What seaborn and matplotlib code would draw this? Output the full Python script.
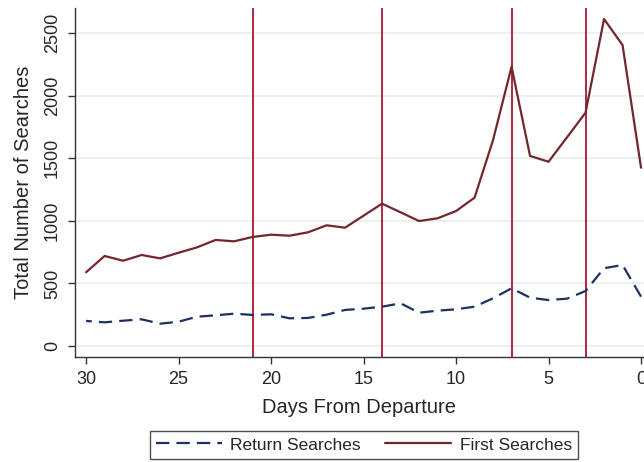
import matplotlib
matplotlib.use("Agg")
import matplotlib.pyplot as plt
import seaborn as sns
import pandas as pd

days = list(range(30, -1, -1))
first_searches = [589, 719, 681, 727, 700, 745, 788, 847, 836, 871,
                  889, 881, 908, 964, 945, 1041, 1137, 1068, 998, 1020,
                  1078, 1185, 1645, 2231, 1518, 1472, 1667, 1864, 2612, 2404,
                  1424]
return_searches = [200, 189, 202, 213, 178, 194, 234, 245, 258, 248,
                   253, 221, 224, 250, 288, 298, 314, 341, 266, 282,
                   293, 314, 381, 461, 386, 367, 378, 439, 621, 647,
                   394]
marker_days = [21, 14, 7, 3]
y_ticks = [0, 500, 1000, 1500, 2000, 2500]
x_ticks = [30, 25, 20, 15, 10, 5, 0]

sns.set_style("white")
plt.rcParams["font.family"] = ["Liberation Sans", "DejaVu Sans"]

df = pd.DataFrame({"days": days, "first": first_searches, "ret": return_searches})

fig = plt.figure(figsize=(6.44, 4.62), dpi=100)
ax = fig.add_axes([75 / 644, 1 - 357 / 462, (644 - 75) / 644, (357 - 8) / 462])

for y in y_ticks:
    ax.axhline(y, color="#e8eff0", lw=1.2, zorder=0)

for d in marker_days:
    ax.axvline(d, color="#ad1530", lw=1.3, zorder=1)

sns.lineplot(data=df, x="days", y="ret", ax=ax, color="#1c3160", lw=1.6,
             linestyle=(0, (6, 3.2)), label="Return Searches", zorder=3)
sns.lineplot(data=df, x="days", y="first", ax=ax, color="#74262e", lw=1.6,
             label="First Searches", zorder=3)

ax.set_xlim(30.6, -0.16)
ax.set_ylim(-88, 2700)
ax.set_xticks(x_ticks)
ax.set_yticks(y_ticks)
ax.set_xticklabels([str(t) for t in x_ticks], fontsize=13)
ax.set_yticklabels([str(t) for t in y_ticks], fontsize=13, rotation=90, va="center")
ax.tick_params(axis="both", which="both", length=5, width=1, color="#333333",
               direction="out", bottom=True, left=True)
ax.tick_params(axis="x", pad=5)
ax.tick_params(axis="y", pad=5)

for side in ["top", "right"]:
    ax.spines[side].set_visible(False)
for side in ["left", "bottom"]:
    ax.spines[side].set_color("#333333")
    ax.spines[side].set_linewidth(1.0)

ax.set_xlabel("Days From Departure", fontsize=14.5, labelpad=7)
ax.set_ylabel("Total Number of Searches", fontsize=14.5, labelpad=8)

ax.legend_.remove()
handles, labels = ax.get_legend_handles_labels()
leg = fig.legend(handles, labels, loc="center", bbox_to_anchor=(364 / 644, 1 - 445 / 462),
                 ncol=2, fontsize=12.5, frameon=True, fancybox=False,
                 edgecolor="#222222", handlelength=3.8, columnspacing=1.4,
                 borderpad=0.35, handletextpad=0.5, borderaxespad=0)
leg.get_frame().set_linewidth(1.0)

fig.savefig("out.png", dpi=100)
